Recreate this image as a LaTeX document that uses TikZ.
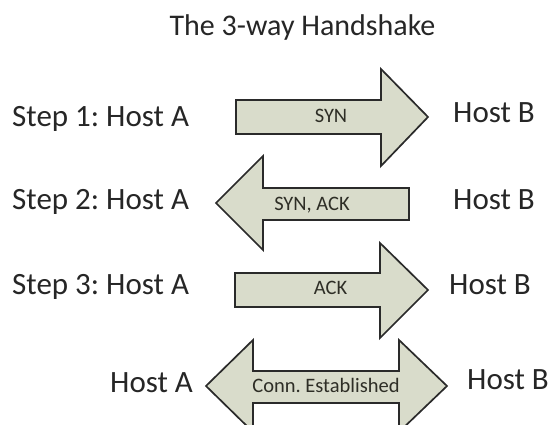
\documentclass[tikz,border=0pt]{standalone}
\usepackage{fontspec}
\setmainfont{Carlito}
\frenchspacing
\definecolor{inktext}{HTML}{262626}
\definecolor{arrowfill}{HTML}{D9DCCB}
\definecolor{arrowline}{HTML}{2A2A2A}
\definecolor{arrowtext}{HTML}{2E2E26}
\begin{document}
\begin{tikzpicture}[x=1pt,y=-1pt,
  label/.style={inner sep=0pt,text=inktext,font=\fontsize{31}{31}\selectfont,anchor=base west},
  headline/.style={inner sep=0pt,text=inktext,font=\fontsize{30}{30}\selectfont,anchor=base},
  arrowbody/.style={draw=arrowline,fill=arrowfill,line width=1.7pt,line join=miter},
  arrowlabel/.style={inner sep=0pt,text=arrowtext,font=\fontsize{20.5}{20.5}\selectfont,anchor=base}]
  \useasboundingbox (0,0) rectangle (550,425);

  % title
  \node[headline] (title) at (302.5,36) {The 3-way Handshake};

  % step 1: A -> B
  \draw[arrowbody] (236,100) -- (381,100) -- (381,69) -- (428,117)
    -- (381,166) -- (381,134) -- (236,134) -- cycle;
  \node[arrowlabel] (syn) at (331,123) {SYN};
  \node[label] (a1) at (12,127) {Step 1: Host A};
  \node[label] (b1) at (453,123) {Host B};

  % step 2: B -> A
  \draw[arrowbody] (409,188) -- (263,188) -- (263,156) -- (216,203)
    -- (263,250) -- (263,220) -- (409,220) -- cycle;
  \node[arrowlabel] (synack) at (312,211) {SYN, ACK};
  \node[label] (a2) at (12,210) {Step 2: Host A};
  \node[label] (b2) at (453,210) {Host B};

  % step 3: A -> B
  \draw[arrowbody] (235,273) -- (380,273) -- (380,243) -- (428,290)
    -- (380,338) -- (380,307) -- (235,307) -- cycle;
  \node[arrowlabel] (ack) at (330.5,295) {ACK};
  \node[label] (a3) at (12,295) {Step 3: Host A};
  \node[label] (b3) at (449,295) {Host B};

  % connection established: A <-> B
  \draw[arrowbody] (253,371) -- (399,371) -- (399,340) -- (447,386)
    -- (399,432) -- (399,403) -- (253,403) -- (253,432) -- (206,386)
    -- (253,340) -- cycle;
  \node[arrowlabel] (conn) at (326,392) {Conn. Established};
  \node[label] (a4) at (110,392) {Host A};
  \node[label] (b4) at (467,390) {Host B};
\end{tikzpicture}
\end{document}
